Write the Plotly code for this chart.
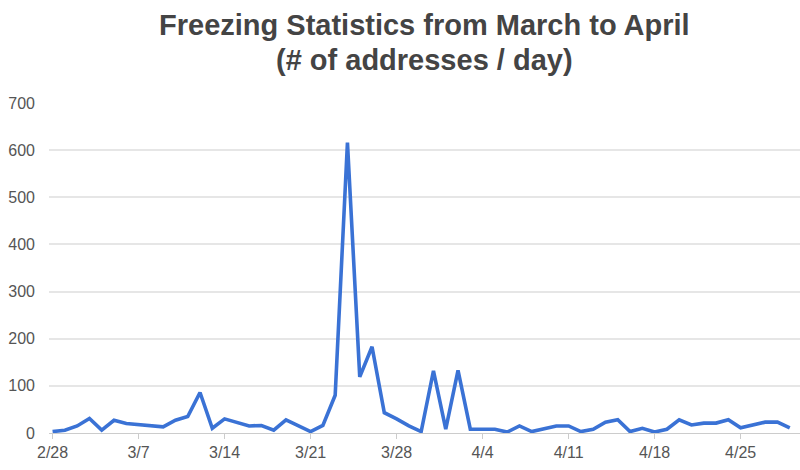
import plotly.graph_objects as go
import pandas as pd

dates = pd.date_range("2021-02-28", "2021-04-29", freq="D")
values = [3, 6, 15, 31, 6, 27, 20, 18, 16, 13,
          27, 35, 86, 10, 30, 22, 15, 16, 6, 28,
          16, 3, 16, 80, 616, 119, 183, 43, 30, 15,
          3, 132, 8, 133, 8, 8, 8, 2, 15, 3,
          9, 15, 15, 3, 8, 23, 28, 3, 10, 2,
          8, 28, 17, 21, 21, 28, 11, 17, 23, 23,
          11]
tick_dates = ["2021-02-28", "2021-03-07", "2021-03-14", "2021-03-21", "2021-03-28",
              "2021-04-04", "2021-04-11", "2021-04-18", "2021-04-25"]
tick_labels = ["2/28", "3/7", "3/14", "3/21", "3/28", "4/4", "4/11", "4/18", "4/25"]
y_ticks = [0, 100, 200, 300, 400, 500, 600, 700]
title_lines = ["Freezing Statistics from March to April", "(# of addresses / day)"]

FONT = "Liberation Sans, Arial, sans-serif"

fig = go.Figure(go.Scatter(
    x=dates, y=values, mode="lines",
    line=dict(color="#3a72d5", width=3.6),
    hoverinfo="x+y",
))

fig.update_layout(
    width=800, height=470,
    margin=dict(l=49, r=0, t=103, b=37),
    paper_bgcolor="white", plot_bgcolor="white",
    showlegend=False,
    font=dict(family=FONT, color="#555"),
    annotations=[
        dict(text="<b>%s</b>" % title_lines[0], xref="paper", yref="paper",
             x=0.5, y=1.237, xanchor="center", yanchor="middle", showarrow=False,
             font=dict(family=FONT, size=29, color="#444")),
        dict(text="<b>%s</b>" % title_lines[1], xref="paper", yref="paper",
             x=0.5, y=1.131, xanchor="center", yanchor="middle", showarrow=False,
             font=dict(family=FONT, size=29, color="#444")),
    ],
    xaxis=dict(
        range=["2021-02-27 17:00", "2021-04-29 20:00"],
        tickvals=tick_dates, ticktext=tick_labels,
        showgrid=False, zeroline=False,
        showline=True, linecolor="#cccccc", linewidth=1,
        ticks="outside", ticklen=5, tickcolor="#cccccc",
        tickfont=dict(size=16, color="#555"),
    ),
    yaxis=dict(
        range=[0, 700], tickvals=y_ticks,
        showgrid=True, gridcolor="#e6e6e6", gridwidth=1.5,
        zeroline=False, showline=False,
        ticklabelstandoff=13,
        tickfont=dict(size=16, color="#555"),
    ),
)

fig.write_html("out.html", config={"displayModeBar": False},
               post_script="document.body.style.margin='0';")
